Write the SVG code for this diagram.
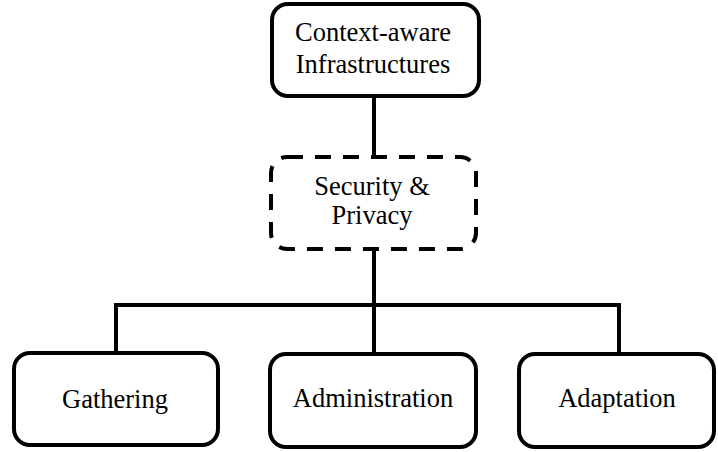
<svg xmlns="http://www.w3.org/2000/svg" width="718" height="452" viewBox="0 0 718 452">
<style>
.box{fill:#fff;stroke:#000;stroke-width:4}
.dash{stroke-dasharray:16 12}
.lbl{font-family:'Liberation Serif','DejaVu Serif',serif;font-size:26.5px;fill:#000;text-anchor:middle}
.conn{fill:none;stroke:#000;stroke-width:4}
</style>
<rect width="718" height="452" fill="#fff"/>
<g id="connectors">
<path class="conn" d="M374 96V157"/>
<path class="conn" d="M374 249V353"/>
<path class="conn" d="M116 353V305H619V353"/>
</g>
<g id="context">
<rect class="box" x="272" y="4" width="207" height="92" rx="16"/>
<text class="lbl" x="373" y="41">Context-aware</text>
<text class="lbl" x="373" y="73">Infrastructures</text>
</g>
<g id="security">
<rect class="box dash" x="271" y="157" width="205" height="92" rx="16"/>
<text class="lbl" x="372" y="195">Security &amp;</text>
<text class="lbl" x="372" y="224">Privacy</text>
</g>
<g id="gathering">
<rect class="box" x="14" y="353" width="204" height="92" rx="16"/>
<text class="lbl" x="115" y="408">Gathering</text>
</g>
<g id="administration">
<rect class="box" x="270" y="354" width="206" height="93" rx="16"/>
<text class="lbl" x="373" y="407">Administration</text>
</g>
<g id="adaptation">
<rect class="box" x="519" y="354" width="195" height="93" rx="16"/>
<text class="lbl" x="617" y="407">Adaptation</text>
</g>
</svg>
